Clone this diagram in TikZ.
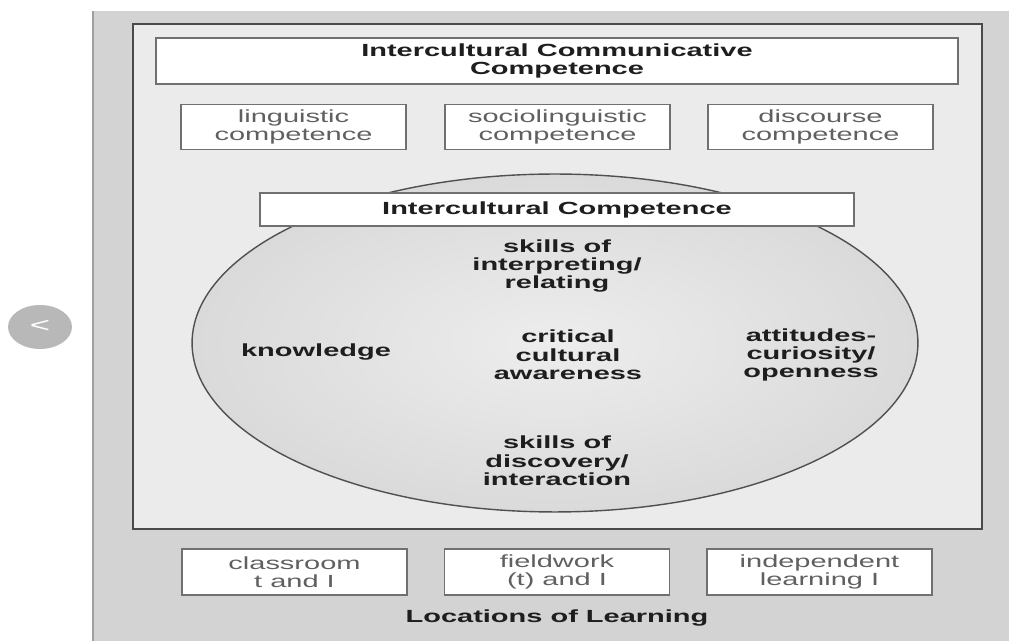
\documentclass[tikz,border=0pt]{standalone}
\usepackage{fontspec}
\setmainfont{Liberation Sans}[FakeStretch=1.65]
\usepackage{tikz}

\definecolor{panelgray}{HTML}{D3D3D3}
\definecolor{panelline}{HTML}{A0A0A0}
\definecolor{innergray}{HTML}{EBEBEB}
\definecolor{innerline}{HTML}{4A4A4A}
\definecolor{boxline}{HTML}{707070}
\definecolor{ellipselight}{HTML}{EDEDED}
\definecolor{ellipsedark}{HTML}{DADADA}
\definecolor{ellipseline}{HTML}{505050}
\definecolor{darktext}{HTML}{1E1E1E}
\definecolor{softtext}{HTML}{606060}
\definecolor{navgray}{HTML}{B8B8B8}

\begin{document}
\begin{tikzpicture}[x=0.02cm,y=-0.02cm]
\tikzstyle{every node}+=[inner sep=0pt, font=\fontsize{10}{10.5}\selectfont]
\tikzstyle{box}=[draw=boxline, line width=0.8pt, fill=white, align=center]
\tikzstyle{rowbox}=[box, minimum width=4.5cm, minimum height=0.9cm, text=softtext]
\tikzstyle{bold}=[align=center, text=darktext, font=\fontsize{10}{10.5}\selectfont\bfseries]
\useasboundingbox (0,0) rectangle (1009,641);
% outer and inner panels
\fill [panelgray] (92,11) rectangle (1009,641);
\draw [panelline, line width=1.2pt] (93,11) -- (93,641);
\draw [innerline, line width=1pt, fill=innergray] (133,24) rectangle (982,529);
% the big ellipse
\shade [inner color=ellipselight, outer color=ellipsedark] (555,343) ellipse (7.26cm and 3.38cm);
\draw [ellipseline, line width=0.8pt] (555,343) ellipse (7.26cm and 3.38cm);
% top title and competences
\node [box, bold, minimum width=16.04cm, minimum height=0.92cm] (icc) at (557,61) {Intercultural Communicative\\Competence};
\node [rowbox] (ling) at (293.5,127) {linguistic\\competence};
\node [rowbox] (socio) at (557.5,127) {sociolinguistic\\competence};
\node [rowbox] (disc) at (820.5,127) {discourse\\competence};
\node [box, bold, minimum width=11.88cm, minimum height=0.66cm] (ic) at (557,209.5) {Intercultural Competence};
% inside the ellipse
\node [bold] (interp) at (557,266) {skills of\\interpreting/\\relating};
\node [bold] (know) at (316,352) {knowledge};
\node [bold] (crit) at (568,355) {critical\\cultural\\awareness};
\node [bold] (att) at (811,355) {attitudes-\\curiosity/\\openness};
\node [bold] (disco) at (557,461) {skills of\\discovery/\\interaction};
% locations
\node [rowbox, minimum height=0.92cm] (class) at (294.5,572) {classroom\\t and I};
\node [rowbox, minimum height=0.92cm] (field) at (557,572) {fieldwork\\(t) and I};
\node [rowbox, minimum height=0.92cm] (indep) at (819.5,572) {independent\\learning I};
\node [bold] (loc) at (557,618) {Locations of Learning};
% back button
\fill [navgray] (40,327) ellipse (0.64cm and 0.44cm);
\node [text=white, font=\fontsize{12}{12}\selectfont] (prev) at (40,326) {<};
\end{tikzpicture}
\end{document}
